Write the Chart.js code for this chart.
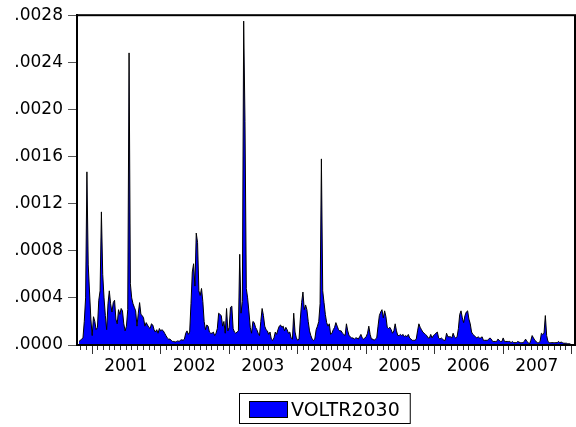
<!DOCTYPE html>
<html>
<head>
<meta charset="utf-8">
<script src="https://cdn.jsdelivr.net/npm/chart.js"></script>
<style>
html,body{margin:0;padding:0;background:#fff;}
#wrap{width:576px;height:427px;}
</style>
</head>
<body>
<div id="wrap"><canvas id="c" width="576" height="427"></canvas></div>
<script>
// ---- data (values in units of 1e-4) ----
const seriesName = 'VOLTR2030';
const valueUnit = 1e-4;
const firstWeek2000 = 42;
const volt2000 = [0.3,0.4,0.5,0.6,2.0,4.0,14.7,6.8,4.5,2.2];
const volt2001 = [0.8,2.4,2.0,1.3,1.5,3.8,4.6,11.3,6.0,4.0,2.5,1.3,3.5,4.6,3.5,2.8,3.6,3.8,2.2,1.8,3.0,2.6,3.1,2.9,1.8,1.2,1.6,3.0,24.8,5.2,4.0,3.5,3.2,2.9,1.6,2.7,3.6,2.6,2.5,2.3,1.6,1.9,1.7,1.5,1.4,1.8,1.7,1.3,1.1,1.3,1.0,1.4];
const volt2002 = [1.2,1.3,1.2,1.0,0.8,0.6,0.5,0.5,0.4,0.3,0.3,0.25,0.3,0.35,0.3,0.4,0.45,0.4,0.5,1.0,1.2,0.9,1.1,3.5,6.2,6.9,5.0,9.5,8.7,4.6,4.2,4.8,3.7,2.0,1.3,1.7,1.6,1.1,1.0,1.0,1.1,0.8,1.0,1.4,2.7,2.6,2.5,1.6,2.0,1.0,3.1,1.2];
const volt2003 = [1.5,3.2,3.3,1.4,1.1,1.0,1.1,1.2,7.7,2.7,3.7,27.5,19.0,4.8,4.0,2.8,1.5,1.0,2.0,1.9,1.5,1.3,1.0,0.8,2.0,3.1,2.5,1.6,1.3,1.2,0.9,1.1,0.5,0.4,0.6,1.1,0.9,1.3,1.6,1.7,1.5,1.6,1.2,1.5,1.3,1.0,1.1,0.6,0.5,2.7,1.1,0.6];
const volt2004 = [0.4,0.5,2.2,3.6,4.5,3.0,3.4,3.0,2.0,1.2,0.8,0.5,0.4,0.5,1.3,1.6,2.0,3.5,15.8,4.6,3.6,2.6,1.9,1.6,1.8,0.9,1.0,1.3,1.5,1.9,1.6,1.3,1.2,1.2,1.0,0.9,0.8,1.8,1.2,0.8,0.7,0.6,0.6,0.5,0.6,0.6,0.5,0.7,0.9,0.6,0.5,0.6];
const volt2005 = [0.7,1.0,1.6,0.9,0.5,0.5,0.4,0.5,0.6,1.6,2.5,2.8,3.0,2.3,2.9,2.4,1.5,1.4,1.5,1.3,1.0,1.2,1.8,1.2,0.8,0.8,0.9,0.8,0.9,0.7,0.8,0.7,0.9,0.6,0.5,0.4,0.4,0.4,0.5,1.2,1.8,1.5,1.3,1.1,1.0,0.9,0.8,0.6,0.6,0.9,0.6,0.8];
const volt2006 = [0.9,1.0,1.1,0.6,0.5,0.6,0.5,0.4,0.4,1.0,0.7,0.7,0.7,0.6,1.0,0.7,0.6,0.7,1.4,2.6,2.9,2.3,1.9,2.5,2.8,2.9,2.2,1.8,1.1,0.9,0.8,0.7,0.6,0.7,0.6,0.6,0.7,0.4,0.4,0.4,0.4,0.5,0.6,0.5,0.3,0.3,0.3,0.3,0.5,0.4,0.3,0.3];
const volt2007 = [0.6,0.3,0.3,0.3,0.3,0.3,0.2,0.3,0.2,0.2,0.2,0.3,0.25,0.2,0.2,0.2,0.3,0.5,0.3,0.2,0.1,0.4,0.8,0.6,0.4,0.3,0.2,0.2,0.3,1.0,0.9,1.0,2.5,0.8,0.3,0.2,0.2,0.2,0.2,0.2,0.2,0.2,0.3,0.2,0.25,0.2,0.15,0.15,0.15,0.1,0.1,0.1];
const yearLabels = ['2001','2002','2003','2004','2005','2006','2007'];
const yTickValues = [0, 0.0004, 0.0008, 0.0012, 0.0016, 0.0020, 0.0024, 0.0028];
const xMin = 2000.788, xMax = 2008.058;

const yearBlocks = [
  {year: 2000, firstWeek: firstWeek2000, values: volt2000},
  {year: 2001, firstWeek: 0, values: volt2001},
  {year: 2002, firstWeek: 0, values: volt2002},
  {year: 2003, firstWeek: 0, values: volt2003},
  {year: 2004, firstWeek: 0, values: volt2004},
  {year: 2005, firstWeek: 0, values: volt2005},
  {year: 2006, firstWeek: 0, values: volt2006},
  {year: 2007, firstWeek: 0, values: volt2007}
];
const points = [];
yearBlocks.forEach(b => b.values.forEach((v, i) => {
  points.push({x: b.year + (b.firstWeek + i + 0.5) / 52, y: v * valueUnit});
}));

const FONT = "'DejaVu Sans', 'Liberation Sans', sans-serif";

const decorPlugin = {
  id: 'decor',
  afterDraw(chart) {
    const {ctx, chartArea: ca} = chart;
    const xs = chart.scales.x;
    ctx.save();
    // frame
    ctx.strokeStyle = '#000';
    ctx.lineWidth = 2;
    ctx.strokeRect(ca.left, ca.top, ca.right - ca.left, ca.bottom - ca.top);
    // month / year tick marks on x axis
    ctx.lineWidth = 1;
    ctx.strokeStyle = '#333';
    const firstYear = +yearLabels[0];
    const lastYear = +yearLabels[yearLabels.length - 1] + 1;
    for (let y = firstYear - 1; y <= lastYear; y++) {
      for (let m = 0; m < 12; m++) {
        const t = y + m / 12;
        if (t < xMin || t > xMax) continue;
        const px = Math.round(xs.getPixelForValue(t)) + 0.5;
        const len = m === 0 ? 8 : 4;
        ctx.beginPath();
        ctx.moveTo(px, ca.bottom + 1);
        ctx.lineTo(px, ca.bottom + 1 + len);
        ctx.stroke();
      }
    }
    // legend
    const ds = chart.data.datasets[0];
    ctx.font = '19px ' + FONT;
    const tw = ctx.measureText(ds.label).width;
    const padL = 10, sw = 38, sh = 16, gap = 4, padR = 10, bh = 30;
    const bw = padL + sw + gap + tw + padR;
    const cx = (ca.left + ca.right) / 2 - 1.5;
    const bx = Math.round(cx - bw / 2), by = chart.height - 34;
    ctx.fillStyle = '#fff';
    ctx.fillRect(bx, by, bw, bh);
    ctx.strokeStyle = '#000';
    ctx.lineWidth = 1;
    ctx.strokeRect(bx + 0.5, by + 0.5, bw, bh);
    ctx.fillStyle = ds.backgroundColor;
    ctx.fillRect(bx + padL, by + 8, sw, sh);
    ctx.strokeRect(bx + padL + 0.5, by + 8.5, sw, sh);
    ctx.fillStyle = '#000';
    ctx.textAlign = 'left';
    ctx.textBaseline = 'alphabetic';
    ctx.fillText(ds.label, bx + padL + sw + gap, by + 23);
    ctx.restore();
  }
};

new Chart(document.getElementById('c').getContext('2d'), {
  type: 'line',
  data: {
    datasets: [{
      label: seriesName,
      data: points,
      borderColor: '#000',
      borderWidth: 1,
      backgroundColor: '#0000ff',
      fill: 'origin',
      pointRadius: 0,
      tension: 0
    }]
  },
  options: {
    responsive: false,
    animation: false,
    devicePixelRatio: 1,
    layout: {padding: {left: 0, right: 1, top: 13, bottom: 0}},
    plugins: {legend: {display: false}, tooltip: {enabled: false}},
    scales: {
      x: {
        type: 'linear',
        min: xMin,
        max: xMax,
        afterBuildTicks: s => { s.ticks = yearLabels.map(l => ({value: +l + 0.5})); },
        afterFit: s => { s.height = 82; },
        ticks: {
          autoSkip: false, maxRotation: 0, minRotation: 0,
          color: '#000', font: {family: FONT, size: 17}, padding: 11,
          callback: v => String(Math.floor(v))
        },
        grid: {display: false, drawTicks: false},
        border: {display: true, color: '#000', width: 2}
      },
      y: {
        type: 'linear',
        min: 0,
        max: 0.0028,
        afterBuildTicks: s => { s.ticks = yTickValues.map(v => ({value: v})); },
        afterFit: s => { s.width = 77; },
        ticks: {
          color: '#000', font: {family: FONT, size: 17}, padding: 5,
          callback: v => v.toFixed(4).replace(/^0/, '')
        },
        grid: {drawOnChartArea: false, drawTicks: true, tickLength: 9, color: '#555', lineWidth: 1},
        border: {display: true, color: '#000', width: 2}
      }
    }
  },
  plugins: [decorPlugin]
});
</script>
</body>
</html>
